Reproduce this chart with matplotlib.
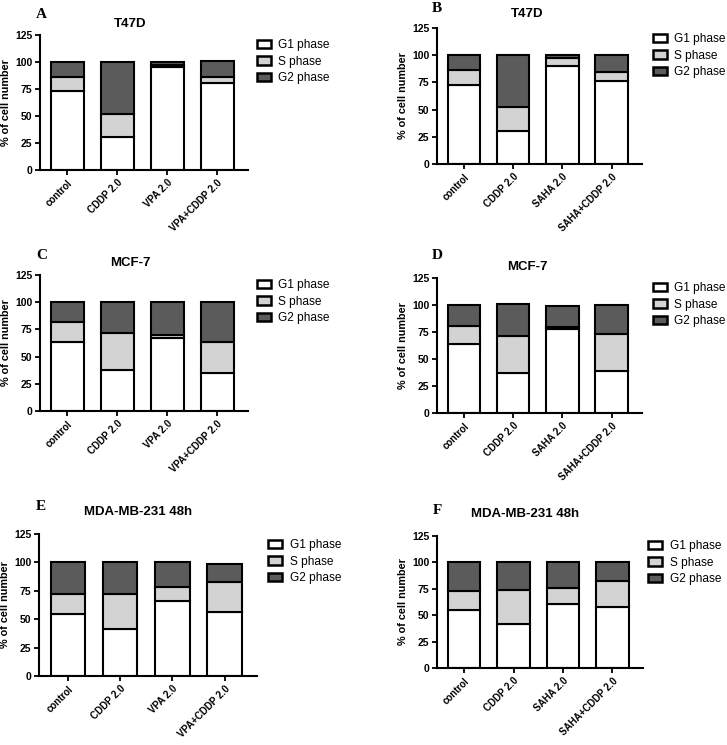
import matplotlib
matplotlib.use('Agg')
import matplotlib.pyplot as plt
from matplotlib.patches import Patch
import numpy as np

plt.rcParams['font.family'] = ['Liberation Sans', 'DejaVu Sans']

# treatment groups
groups_vpa = ['control', 'CDDP 2.0', 'VPA 2.0', 'VPA+CDDP 2.0']
groups_saha = ['control', 'CDDP 2.0', 'SAHA 2.0', 'SAHA+CDDP 2.0']
phases = ['G1 phase', 'S phase', 'G2 phase']

# % of cells per phase (G1, S, G2) for each panel
A_g1 = [73, 31, 95.5, 81]
A_s = [13, 21, 2, 5]
A_g2 = [14, 48, 2.5, 15]

B_g1 = [72.7, 30, 90.5, 76]
B_s = [13.3, 22, 6.5, 9]
B_g2 = [14, 48, 3, 15]

C_g1 = [63.5, 37.6, 66.8, 35]
C_s = [18.5, 33.8, 2.8, 28.4]
C_g2 = [18, 29.2, 30.4, 36.6]

D_g1 = [64, 37.2, 78, 38.8]
D_s = [16.7, 33.8, 2, 33.9]
D_g2 = [19.3, 30, 19.4, 27.3]

E_g1 = [55, 41.5, 65.6, 56.5]
E_s = [17.4, 31.1, 12.4, 26.5]
E_g2 = [27.6, 27.4, 22, 16]

F_g1 = [55, 41.6, 60.5, 57.3]
F_s = [18.3, 32.4, 15.5, 25.4]
F_g2 = [26.7, 26, 24, 17.3]

colors = ['white', '#d3d3d3', '#5b5b5b']

W, H = 727, 745
fig = plt.figure(figsize=(W / 100, H / 100), dpi=100)


def panel(x0, x1, ytop, ybot, letter, title, letter_xy, title_xy, leg_xy,
          groups, g1, s, g2):
    ax = fig.add_axes([x0 / W, 1 - ybot / H, (x1 - x0) / W, (ybot - ytop) / H])
    x = np.arange(len(groups))
    bottom = np.zeros(len(groups))
    for vals, c, lab in zip([g1, s, g2], colors, phases):
        ax.bar(x, vals, width=0.66, bottom=bottom, color=c, edgecolor='black',
               linewidth=1.5, label=lab)
        bottom = bottom + np.array(vals)
    ax.set_ylim(0, 125)
    ax.set_xlim(-0.55, 3.62)
    ax.set_yticks([0, 25, 50, 75, 100, 125])
    ax.set_xticks(x)
    ax.set_xticklabels(groups, rotation=45, ha='right', rotation_mode='anchor',
                       fontsize=7, fontweight='bold')
    for t in ax.get_yticklabels():
        t.set_fontsize(7.5)
        t.set_fontweight('bold')
    ax.tick_params(direction='out', width=1.3, length=3.5, pad=2)
    ax.spines['top'].set_visible(False)
    ax.spines['right'].set_visible(False)
    ax.spines['left'].set_linewidth(1.5)
    ax.spines['bottom'].set_linewidth(1.5)
    ax.set_ylabel('% of cell number', fontsize=7.8, fontweight='bold', labelpad=3)

    fig.text(letter_xy[0] / W, 1 - letter_xy[1] / H, letter, family='Liberation Serif',
             fontsize=11, fontweight='bold', ha='left', va='center')
    fig.text(title_xy[0] / W, 1 - title_xy[1] / H, title, fontsize=9.5,
             fontweight='bold', ha='center', va='center')

    handles = [Patch(facecolor=c, edgecolor='black', linewidth=1.8) for c in colors]
    fig.legend(handles, phases, loc='upper left',
               bbox_to_anchor=(leg_xy[0] / W, 1 - leg_xy[1] / H),
               frameon=False, fontsize=8.6, handlelength=1.2, handleheight=0.72,
               handletextpad=0.6, labelspacing=0.38, borderpad=0, borderaxespad=0)
    return ax


panel(40, 248, 35, 170, 'A', 'T47D', (36, 14), (130, 24), (257, 39),
      groups_vpa, A_g1, A_s, A_g2)
panel(437, 642, 28, 164, 'B', 'T47D', (432, 9), (527, 14), (653, 33),
      groups_saha, B_g1, B_s, B_g2)
panel(40, 248, 275, 411, 'C', 'MCF-7', (36, 255), (130, 263), (257, 279),
      groups_vpa, C_g1, C_s, C_g2)
panel(437, 642, 278, 413, 'D', 'MCF-7', (432, 255), (527, 267), (653, 282),
      groups_saha, D_g1, D_s, D_g2)
panel(39, 257, 534, 676, 'E', 'MDA-MB-231 48h', (36, 507), (138, 512), (268, 539),
      groups_vpa, E_g1, E_s, E_g2)
panel(437, 643, 536, 668, 'F', 'MDA-MB-231 48h', (433, 511), (525, 514), (648, 540),
      groups_saha, F_g1, F_s, F_g2)

fig.savefig('out.png', dpi=100)
